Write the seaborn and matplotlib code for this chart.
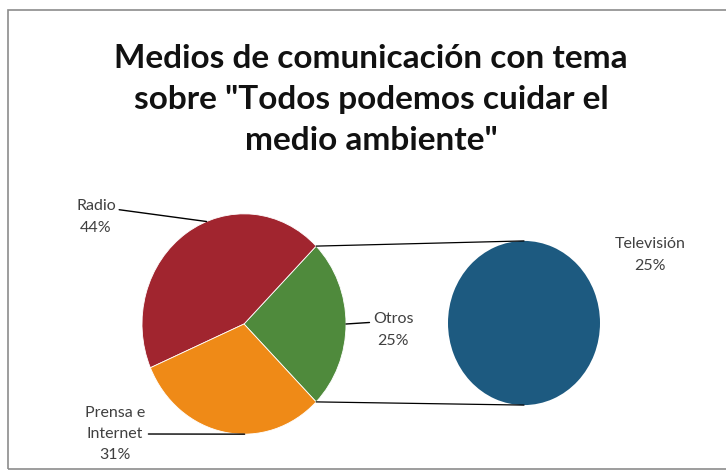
import matplotlib
matplotlib.use("Agg")
import matplotlib.pyplot as plt
import seaborn as sns
import numpy as np
from matplotlib.patches import Rectangle

# data
main_labels = ["Otros", "Radio", "Prensa e\nInternet"]
main_values = [25, 44, 31]
sub_labels = ["Televisión"]
sub_values = [25]
title = 'Medios de comunicación con tema\nsobre "Todos podemos cuidar el\nmedio ambiente"'

sns.set_theme(style="white")
plt.rcParams["font.family"] = ["Lato", "DejaVu Sans"]

main_colors = sns.color_palette(["#4F8A3C", "#A1252F", "#EF8A17"])
sub_colors = sns.color_palette(["#1D5A80"])

W, H = 726, 471
S = 1.08  # vertical stretch of the original picture

def py(y):
    return (H - y) / S

fig = plt.figure(figsize=(W / 100, H / 100), dpi=100)
ax = fig.add_axes([0, 0, 1, 1])

c1 = (244, py(324))
r1 = 102
c2 = (524, py(323))
r2 = 76

wedges, _ = ax.pie(main_values, colors=main_colors, startangle=-45,
                   counterclock=True, center=c1, radius=r1, frame=True,
                   wedgeprops=dict(linewidth=0.6, edgecolor="white"))
sub_wedges, _ = ax.pie(sub_values, colors=sub_colors, startangle=90,
                       center=c2, radius=r2, frame=True,
                       wedgeprops=dict(linewidth=0))
ax.set_aspect("auto")
ax.set_xlim(0, W)
ax.set_ylim(0, H / S)
ax.axis("off")

# connector lines from the broken-out wedge to the second pie
w = wedges[0]
for ang, sign in [(w.theta2, 1), (w.theta1, -1)]:
    x0 = c1[0] + r1 * np.cos(np.radians(ang))
    y0 = c1[1] + r1 * np.sin(np.radians(ang))
    ax.plot([x0, c2[0]], [y0, c2[1] + sign * r2], color="black", lw=0.9)

lab_kw = dict(fontsize=11.5, color="#404040", ha="center", va="center",
              linespacing=1.65)
arrow = dict(arrowstyle="-", color="black", lw=1, shrinkA=0, shrinkB=0)

def edge_point(wedge, frac):
    ang = wedge.theta1 + frac * (wedge.theta2 - wedge.theta1)
    return (c1[0] + r1 * np.cos(np.radians(ang)),
            c1[1] + r1 * np.sin(np.radians(ang)))

pcts = [f"{v}%" for v in main_values]

ax.annotate(f"{main_labels[1]}\n{pcts[1]}", xy=edge_point(wedges[1], 0.42),
            xytext=(96, py(217)),
            arrowprops=dict(arrow, relpos=(1.0, 0.72)), **lab_kw)
ax.annotate(f"{main_labels[2]}\n{pcts[2]}", xy=edge_point(wedges[2], 0.6),
            xytext=(115, py(434)),
            arrowprops=dict(arrow, relpos=(1.0, 0.5)), **lab_kw)
ax.annotate(f"{main_labels[0]}\n{pcts[0]}", xy=edge_point(wedges[0], 0.5),
            xytext=(393, py(330)),
            arrowprops=dict(arrow, relpos=(0.0, 0.72)), **lab_kw)
ax.text(650, py(255), f"{sub_labels[0]}\n{sub_values[0]}%", **lab_kw)

fig.text(371 / W, 1 - 100 / H, title, ha="center", va="center",
         fontsize=24, fontweight="bold", color="#111111", linespacing=1.5)

fig.patches.append(Rectangle((8 / W, 2 / H), 1.0, 1 - 12 / H,
                             transform=fig.transFigure, fill=False,
                             edgecolor="#8C8C8C", lw=1.2))

fig.savefig("out.png", dpi=100)
